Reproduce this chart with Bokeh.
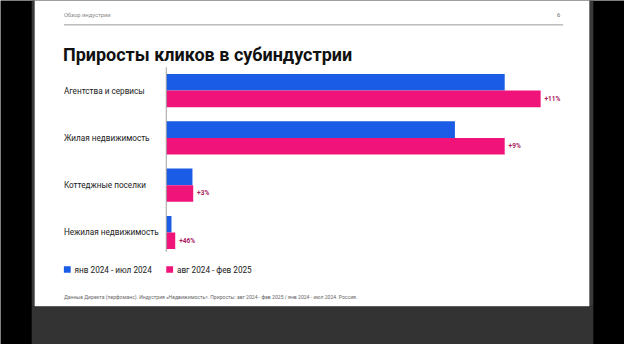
from bokeh.plotting import figure
from bokeh.models import Range1d
from bokeh.core.properties import value
from bokeh.embed import file_html
from bokeh.resources import INLINE

# ---------------- data ----------------
categories = ["Агентства и сервисы", "Жилая недвижимость", "Коттеджные поселки", "Нежилая недвижимость"]
series_names = ["янв 2024 - июл 2024", "авг 2024 - фев 2025"]
clicks_h1 = [90.4, 77.1, 7.0, 1.4]     # relative clicks (index), Jan–Jul 2024
clicks_h2 = [100.0, 90.4, 7.2, 2.4]    # relative clicks (index), Aug 2024–Feb 2025
growth_labels = ["+11%", "+9%", "+3%", "+46%"]

title_text = "Приросты кликов в субиндустрии"
header_text = "Обзор индустрии"
page_number = "6"
footnote_text = ("Данные Директа (перфоманс). Индустрия «Недвижимость». "
                 "Приросты: авг 2024 - фев 2025 / янв 2024 - июл 2024. Россия.")

# ---------------- style / layout ----------------
BLUE = "#1a5ce6"
PINK = "#f0147a"
LABEL_PINK = "#a8185c"
FONT = "Roboto"

W, H = 624, 344
REF_W, REF_H = 640, 360   # layout designed on a 640x360 slide grid
X0 = 170.0          # slide x of zero value
PX_PER_UNIT = 3.84  # slide pixels per value unit
CAT0 = 94.3         # slide y of first category centre
CAT_STEP = 49.47    # slide pixels between categories
BAR_PX = 17.3
n = len(categories)


def dx(X):
    return (X - X0) / PX_PER_UNIT


def dy(Y):
    return (n - 1) - (Y - CAT0) / CAT_STEP


p = figure(width=W, height=H, output_backend="svg", toolbar_location=None,
           x_range=Range1d(dx(0), dx(REF_W)), y_range=Range1d(dy(REF_H), dy(0)),
           x_axis_location=None, y_axis_location=None, min_border=0)
p.grid.visible = False
p.outline_line_color = None
p.background_fill_color = "#000000"
p.border_fill_color = "#000000"

# slide chrome
p.quad(left=[dx(32)], right=[dx(608)], top=[dy(320)], bottom=[dy(360)], fill_color="#333333", line_color=None)
p.quad(left=[dx(32)], right=[dx(35)], top=[dy(0)], bottom=[dy(320)], fill_color="#3a3a3a", line_color=None)
p.quad(left=[dx(604)], right=[dx(608)], top=[dy(0)], bottom=[dy(320)], fill_color="#3a3a3a", line_color=None)
p.quad(left=[dx(35)], right=[dx(604)], top=[dy(0)], bottom=[dy(320)], fill_color="#ffffff", line_color=None)

# header
p.text(x=[dx(65)], y=[dy(15.5)], text=[header_text], text_font=value(FONT), text_font_size="5.8px",
       text_color="#888888", text_baseline="middle")
p.text(x=[dx(574)], y=[dy(15.5)], text=[page_number], text_font=value(FONT), text_font_size="5.8px",
       text_color="#666666", text_baseline="middle", text_align="right")
p.segment(x0=[dx(65)], x1=[dx(577)], y0=[dy(25.5)], y1=[dy(25.5)], line_color="#9a9a9a", line_width=1)

# title
p.text(x=[dx(64)], y=[dy(56)], text=[title_text], text_font=value(FONT), text_font_size="18px",
       text_font_style="bold", text_color="#111111", text_baseline="alphabetic")

# bars
ypos = [n - 1 - i for i in range(n)]
h = BAR_PX / CAT_STEP
p.hbar(y=[v + h / 2 for v in ypos], height=h, left=0, right=clicks_h1, fill_color=BLUE, line_color=None)
p.hbar(y=[v - h / 2 for v in ypos], height=h, left=0, right=clicks_h2, fill_color=PINK, line_color=None)

# zero axis line
p.segment(x0=[0], x1=[0], y0=[dy(70)], y1=[dy(263)], line_color="#a0a0a0", line_width=1)

# category labels
p.text(x=[dx(65)] * n, y=ypos, text=categories, text_font=value(FONT), text_font_size="8.2px",
       text_color="#1a1a1a", text_baseline="middle")

# growth labels
p.text(x=[v + 4 / PX_PER_UNIT for v in clicks_h2], y=[v - h / 2 for v in ypos], text=growth_labels,
       text_font=value(FONT), text_font_size="6.5px", text_font_style="bold",
       text_color=LABEL_PINK, text_baseline="middle")

# legend
for lx, col, name in [(65, BLUE, series_names[0]), (170, PINK, series_names[1])]:
    p.quad(left=[dx(lx)], right=[dx(lx + 7)], top=[dy(278)], bottom=[dy(285)], fill_color=col, line_color=None)
    p.text(x=[dx(lx + 11)], y=[dy(282)], text=[name], text_font=value(FONT), text_font_size="8.2px",
           text_color="#1a1a1a", text_baseline="middle")

# footnote
p.text(x=[dx(65)], y=[dy(310)], text=[footnote_text], text_font=value(FONT), text_font_size="5.1px",
       text_color="#666666", text_baseline="middle")

open("out.html", "w").write(file_html(p, INLINE))
